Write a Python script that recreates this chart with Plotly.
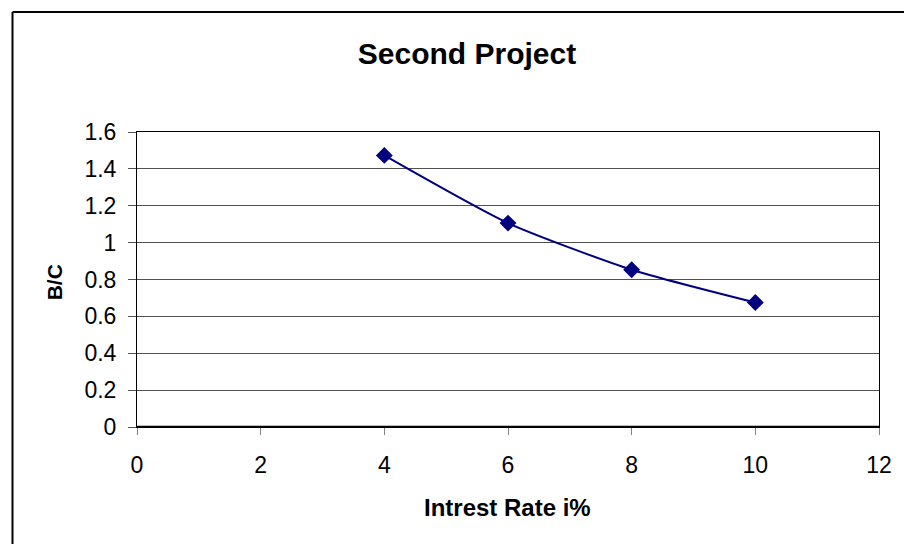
import plotly.graph_objects as go

rates = [4, 6, 8, 10]
bc = [1.473, 1.106, 0.853, 0.675]
x_ticks = [0, 2, 4, 6, 8, 10, 12]
y_ticks = [0, 0.2, 0.4, 0.6, 0.8, 1, 1.2, 1.4, 1.6]
y_labels = ["0", "0.2", "0.4", "0.6", "0.8", "1", "1.2", "1.4", "1.6"]

W, H = 904, 544
L, R, T, B = 137, 22, 132, 117
pw = W - L - R
ph = H - T - B

FONT = "Liberation Sans, Arial, sans-serif"

fig = go.Figure()
fig.add_trace(go.Scatter(
    x=rates, y=bc, mode="lines+markers",
    line=dict(color="#000080", width=2, shape="spline", smoothing=0.6),
    marker=dict(symbol="diamond", size=13, color="#000080"),
    showlegend=False,
))

fig.update_layout(
    width=W, height=H,
    margin=dict(l=L, r=R, t=T, b=B),
    paper_bgcolor="white", plot_bgcolor="white",
    font=dict(family=FONT, color="black"),
    title=dict(text="<b>Second Project</b>", x=467 / W, xanchor="center",
               y=1 - 53 / H, yanchor="middle", font=dict(size=30)),
    xaxis=dict(
        range=[0, 12], tickvals=x_ticks, showgrid=False, zeroline=False,
        showline=True, linecolor="black", linewidth=1, mirror=True,
        ticks="outside", ticklen=7, tickcolor="#808080", tickwidth=1,
        ticklabelstandoff=10,
        tickfont=dict(size=23),
    ),
    yaxis=dict(
        range=[0, 1.6], tickvals=y_ticks, ticktext=y_labels,
        showgrid=True, gridcolor="#505050", gridwidth=1, zeroline=False,
        showline=True, linecolor="black", linewidth=1, mirror=True,
        ticks="outside", ticklen=8, tickcolor="#505050", tickwidth=1,
        ticklabelstandoff=7,
        tickfont=dict(size=23),
    ),
)

# axis titles
fig.add_annotation(text="<b>Intrest Rate i%</b>", xref="paper", yref="paper",
                   x=(509 - L) / pw, y=-(508 - (T + ph)) / ph,
                   xanchor="center", yanchor="middle", showarrow=False,
                   font=dict(size=24, family=FONT, color="black"))
fig.add_annotation(text="<b>B/C</b>", xref="paper", yref="paper",
                   x=(54 - L) / pw, y=1 - (282 - T) / ph, textangle=-90,
                   xanchor="center", yanchor="middle", showarrow=False,
                   font=dict(size=21, family=FONT, color="black"))

# thick baseline at 0
fig.add_shape(type="line", xref="paper", yref="y", x0=0, x1=1, y0=0, y1=0,
              line=dict(color="black", width=2.5))

# outer chart border (left and top edges visible)
bx = (12 - L) / pw
by = 1 + (T - 12) / ph
fig.add_shape(type="line", xref="paper", yref="paper", x0=bx, x1=bx, y0=by, y1=-B / ph - 0.05,
              line=dict(color="black", width=2))
fig.add_shape(type="line", xref="paper", yref="paper", x0=bx, x1=(W - L + 10) / pw, y0=by, y1=by,
              line=dict(color="black", width=2))

fig.write_html("out.html")
